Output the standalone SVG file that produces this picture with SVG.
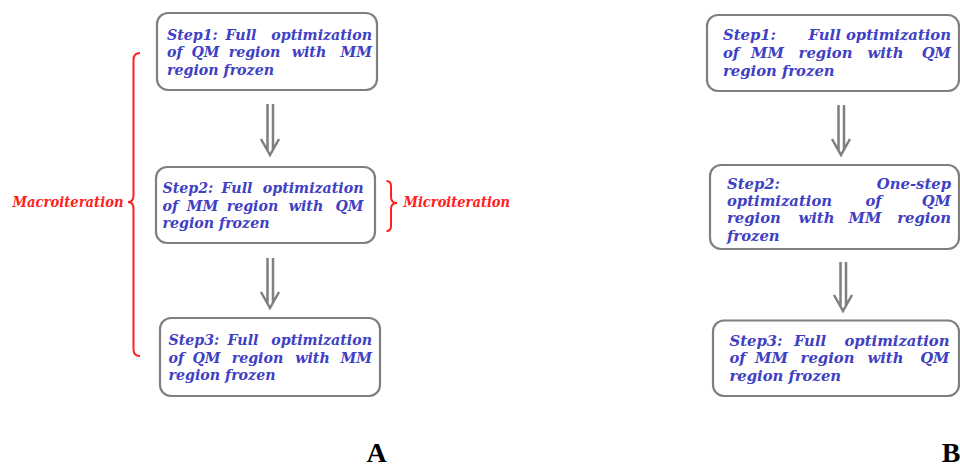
<svg xmlns="http://www.w3.org/2000/svg" width="960" height="467" viewBox="0 0 960 467">
<style>
.box{fill:#fff;stroke:#7f7f7f;stroke-width:2.2}
.t{font-family:"DejaVu Serif","Liberation Serif",serif;font-weight:bold;font-style:italic;font-size:14.2px;fill:#4040c4}
.b{font-size:14.8px}
.m{text-anchor:middle}
.e{text-anchor:end}
.r{font-family:"DejaVu Serif","Liberation Serif",serif;font-weight:bold;font-style:italic;font-size:14px;fill:#ff2020}
.br{fill:none;stroke:#ff2020;stroke-width:2}
.ar{fill:none;stroke:#7f7f7f;stroke-width:2.5}
.lab{font-family:"Liberation Serif",serif;font-weight:bold;font-size:28px;fill:#000}
</style>
<rect width="960" height="467" fill="#fff"/>
<g id="connectors">
<path class="ar" d="M267.5,104V150M273,104V150M261,139L270,155L279,139"/>
<path class="ar" d="M267.5,258V303M273,258V303M261,292L270,308L279,292"/>
<path class="ar" d="M838.5,105V150M844,105V150M832,139L841,155L850,139"/>
<path class="ar" d="M840.5,262V306M846,262V306M834,295L843,311L852,295"/>
</g>
<g id="A1" class="t">
<rect class="box" x="157" y="13" width="220" height="77" rx="11"/>
<text x="167" y="39.5">Step1:</text><text class="m" x="241" y="39.5">Full</text><text class="e" x="372" y="39.5">optimization</text>
<text x="167" y="57.3">of</text><text class="m" x="205.5" y="57.3">QM</text><text class="m" x="254.5" y="57.3">region</text><text class="m" x="309" y="57.3">with</text><text class="e" x="372" y="57.3">MM</text>
<text x="167" y="74.5">region frozen</text>
</g>
<g id="A2" class="t">
<rect class="box" x="156" y="167" width="219" height="76" rx="11"/>
<text x="162.5" y="193.3">Step2:</text><text class="m" x="237" y="193.3">Full</text><text class="e" x="363.5" y="193.3">optimization</text>
<text x="162.5" y="210.7">of</text><text class="m" x="202.5" y="210.7">MM</text><text class="m" x="252.5" y="210.7">region</text><text class="m" x="306" y="210.7">with</text><text class="e" x="363.5" y="210.7">QM</text>
<text x="162.5" y="227.5">region frozen</text>
</g>
<g id="A3" class="t">
<rect class="box" x="160" y="318" width="220" height="78" rx="11"/>
<text x="168.5" y="345">Step3:</text><text class="m" x="243" y="345">Full</text><text class="e" x="372" y="345">optimization</text>
<text x="168.5" y="362.7">of</text><text class="m" x="206.5" y="362.7">QM</text><text class="m" x="257.5" y="362.7">region</text><text class="m" x="312.5" y="362.7">with</text><text class="e" x="372" y="362.7">MM</text>
<text x="168.5" y="380">region frozen</text>
</g>
<g id="B1" class="t b">
<rect class="box" x="707" y="15" width="252" height="76" rx="11"/>
<text x="723" y="40">Step1:</text><text class="e" x="951" y="40">Full optimization</text>
<text x="723" y="58.3">of</text><text class="m" x="767.5" y="58.3">MM</text><text class="m" x="825.5" y="58.3">region</text><text class="m" x="885.5" y="58.3">with</text><text class="e" x="951" y="58.3">QM</text>
<text x="723" y="75.7">region frozen</text>
</g>
<g id="B2" class="t b">
<rect class="box" x="710" y="165" width="249" height="84" rx="11"/>
<text x="727" y="189">Step2:</text><text class="e" x="951" y="189">One-step</text>
<text x="727" y="206">optimization</text><text class="m" x="873.5" y="206">of</text><text class="e" x="951" y="206">QM</text>
<text x="727" y="223.3">region</text><text class="m" x="816.5" y="223.3">with</text><text class="m" x="865" y="223.3">MM</text><text class="e" x="951" y="223.3">region</text>
<text x="727" y="240.5">frozen</text>
</g>
<g id="B3" class="t b">
<rect class="box" x="713" y="320.5" width="246" height="75.5" rx="11"/>
<text x="729.5" y="346">Step3:</text><text class="m" x="810" y="346">Full</text><text class="e" x="949.5" y="346">optimization</text>
<text x="729.5" y="363.3">of</text><text class="m" x="771.5" y="363.3">MM</text><text class="m" x="827.5" y="363.3">region</text><text class="m" x="885.5" y="363.3">with</text><text class="e" x="949.5" y="363.3">QM</text>
<text x="729.5" y="380.7">region frozen</text>
</g>
<g id="macro">
<path class="br" d="M140,53Q133.5,53 133.5,60V195Q133.5,202 128,202Q133.5,202 133.5,209V349Q133.5,356 140,356"/>
<text class="r" x="12.5" y="206.5" textLength="111" lengthAdjust="spacingAndGlyphs">Macroiteration</text>
</g>
<g id="micro">
<path class="br" d="M386.5,181Q391,181 391,186V197Q391,203 397,203Q391,203 391,209V226Q391,231 386.5,231"/>
<text class="r" x="403.5" y="206.5" textLength="106.5" lengthAdjust="spacingAndGlyphs">Microiteration</text>
</g>
<text class="lab" x="376.5" y="462" text-anchor="middle">A</text>
<text class="lab" x="951" y="462" text-anchor="middle">B</text>
</svg>
